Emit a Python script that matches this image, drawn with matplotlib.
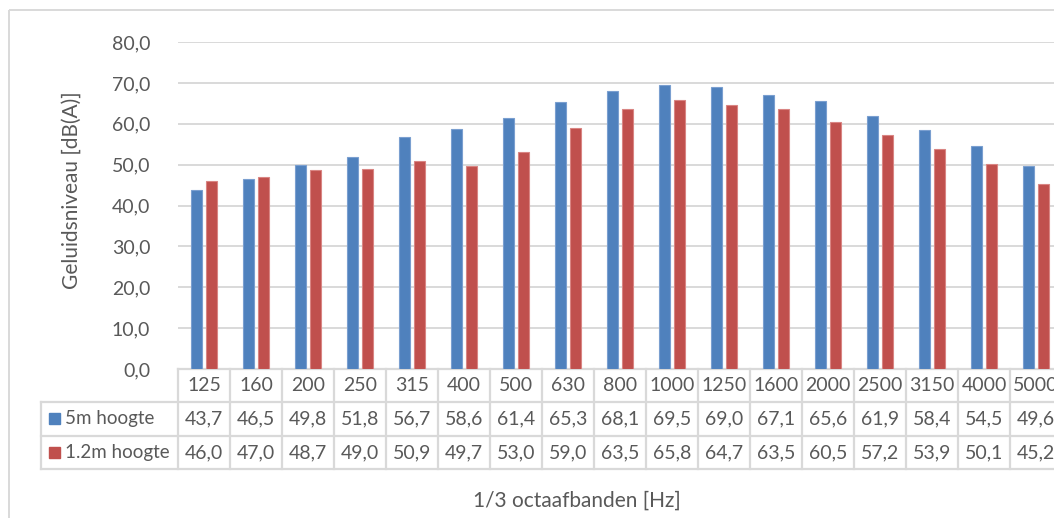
import matplotlib
matplotlib.use("Agg")
import matplotlib.pyplot as plt
from matplotlib.patches import Rectangle
from matplotlib.transforms import blended_transform_factory

# Data
bands = ["125", "160", "200", "250", "315", "400", "500", "630", "800", "1000",
         "1250", "1600", "2000", "2500", "3150", "4000", "5000"]
series_names = ["5m hoogte", "1.2m hoogte"]
level_5m = [43.7, 46.5, 49.8, 51.8, 56.7, 58.6, 61.4, 65.3, 68.1, 69.5,
            69.0, 67.1, 65.6, 61.9, 58.4, 54.5, 49.6]
level_12m = [46.0, 47.0, 48.7, 49.0, 50.9, 49.7, 53.0, 59.0, 63.5, 65.8,
             64.7, 63.5, 60.5, 57.2, 53.9, 50.1, 45.2]
yticks = [0, 10, 20, 30, 40, 50, 60, 70, 80]

colors = ["#4f81bd", "#c0504d"]
edges = ["#7a9fd0", "#d98583"]
text_color = "#595959"
grid_color = "#d9d9d9"
FONT = "Lato"

W, H = 1054, 518
fig = plt.figure(figsize=(W / 100, H / 100), dpi=100)

# Full-figure pixel overlay for the frame and the data table
pix = fig.add_axes([0, 0, 1, 1])
pix.set_xlim(0, W)
pix.set_ylim(H, 0)
pix.axis("off")

# Plot area (extends past the right edge of the figure)
left, right, top, bottom = 178, 1062, 42, 369
ax = fig.add_axes([left / W, (H - bottom) / H, (right - left) / W, (bottom - top) / H])
ax.set_zorder(2)
ax.patch.set_alpha(0)

x = list(range(len(bands)))
bw = 0.222
off = 0.143
ax.bar([i - off for i in x], level_5m, width=bw, color=colors[0],
       edgecolor=edges[0], linewidth=0.8, zorder=3)
ax.bar([i + off for i in x], level_12m, width=bw, color=colors[1],
       edgecolor=edges[1], linewidth=0.8, zorder=3)

fs = 14
ax.set_xlim(-0.5, len(bands) - 0.5)
ax.set_ylim(0, 80)
ax.set_yticks(yticks)
ax.set_yticklabels([f"{v:.1f}".replace(".", ",") for v in yticks],
                   fontsize=fs, color=text_color, family=FONT)
ax.set_xticks([])
ax.tick_params(axis="y", length=0, pad=20)
ax.yaxis.grid(True, color=grid_color, linewidth=1.4, zorder=0)
for s in ax.spines.values():
    s.set_visible(False)

# Outer chart frame
pix.add_patch(Rectangle((9, 9.5), W, H, fill=False, edgecolor=grid_color,
                        linewidth=1.4, clip_on=False))

# Data table below the plot area
trans = blended_transform_factory(ax.transData, pix.transData)
row_y = [369, 401.5, 436, 469]
leg_left = 41
lw = 1.6
# horizontal lines
pix.plot([left, W + 20], [row_y[0]] * 2, color=grid_color, lw=lw, clip_on=False)
for yy in row_y[1:]:
    pix.plot([leg_left, W + 20], [yy] * 2, color=grid_color, lw=lw, clip_on=False)
# vertical lines
pix.plot([leg_left, leg_left], [row_y[1], row_y[3]], color=grid_color, lw=lw)
for i in range(len(bands) + 1):
    ax.plot([i - 0.5, i - 0.5], [row_y[0], row_y[3]], color=grid_color, lw=lw,
            transform=trans, clip_on=False)

for i, b in enumerate(bands):
    ax.text(i, (row_y[0] + row_y[1]) / 2, b, transform=trans, ha="center",
            va="center", fontsize=fs, color=text_color, family=FONT, clip_on=False)
    for r, vals in enumerate([level_5m, level_12m]):
        ax.text(i, (row_y[r + 1] + row_y[r + 2]) / 2,
                f"{vals[i]:.1f}".replace(".", ","), transform=trans,
                ha="center", va="center", fontsize=fs, color=text_color,
                family=FONT, clip_on=False)

for r, name in enumerate(series_names):
    yc = (row_y[r + 1] + row_y[r + 2]) / 2
    pix.add_patch(Rectangle((49, yc - 5.5), 11, 11, color=colors[r]))
    pix.text(65, yc, name, ha="left", va="center", fontsize=13.5,
             color=text_color, family=FONT)

# Axis titles
pix.text(72, 190, "Geluidsniveau [dB(A)]", rotation=90, ha="center",
         va="center", fontsize=15, color=text_color, family=FONT)
pix.text(577, 501, "1/3 octaafbanden [Hz]", ha="center", va="center",
         fontsize=15, color=text_color, family=FONT)

fig.savefig("out.png", dpi=100)
